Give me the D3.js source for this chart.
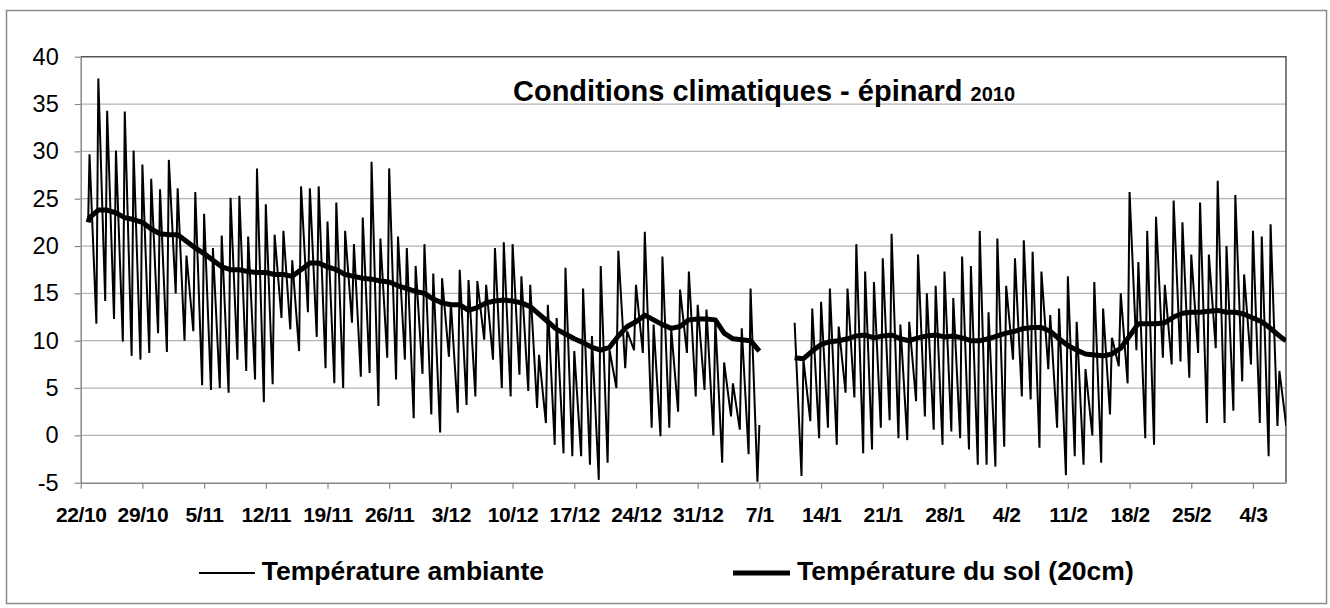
<!DOCTYPE html>
<html>
<head>
<meta charset="utf-8">
<title>Conditions climatiques - épinard 2010</title>
<script src="https://cdn.jsdelivr.net/npm/d3@7"></script>
<style>
  body { margin: 0; background: #fff; }
  svg { display: block; font-family: "Liberation Sans", Arial, sans-serif; }
</style>
</head>
<body>
<svg id="chart" width="1330" height="608"></svg>
<script>
// week tick labels (one every 7 days from 22/10)
const tickLabels = ["22/10", "29/10", "5/11", "12/11", "19/11", "26/11", "3/12", "10/12", "17/12", "24/12",
  "31/12", "7/1", "14/1", "21/1", "28/1", "4/2", "11/2", "18/2", "25/2", "4/3"];
const yTicks = [-5, 0, 5, 10, 15, 20, 25, 30, 35, 40];

// ambient temperature: daily peak and trough, days 1..136 (null = no record)
const ambMax = [29.7, 37.7, 34.3, 30.1, 34.2, 30.1, 28.6, 27.1, 26.0, 29.1,
  26.1, 19.0, 25.7, 23.4, 19.8, 21.1, 25.1, 25.3, 21.0, 28.2,
  24.4, 21.2, 21.6, 18.5, 26.3, 26.1, 26.3, 22.6, 24.6, 21.6,
  20.2, 23.0, 28.9, 20.8, 28.2, 21.0, 19.8, 17.9, 20.2, 17.1,
  16.6, 14.0, 17.5, 16.4, 16.3, 15.9, 19.8, 20.4, 20.2, 16.8,
  15.9, 8.5, 13.8, 12.4, 17.7, 8.9, 15.5, 10.5, 17.9, 9.0,
  19.5, 11.0, 15.9, 21.5, 11.7, 18.9, 11.2, 15.4, 17.3, 13.8,
  13.3, 12.2, 7.7, 5.5, 11.3, 15.5, 1.1, null, null, null,
  11.9, 8.0, 13.4, 14.1, 15.5, 11.5, 15.5, 20.2, 17.3, 16.2,
  18.7, 21.3, 11.7, 12.0, 19.1, 15.0, 15.8, 17.3, 14.5, 18.9,
  17.9, 21.6, 13.0, 20.8, 15.8, 18.7, 20.6, 19.4, 17.3, 12.7,
  13.4, 16.8, 12.0, 7.0, 16.2, 13.4, 10.3, 15.0, 25.7, 18.3,
  21.6, 23.1, 15.9, 24.8, 22.5, 19.1, 24.6, 19.1, 26.9, 20.0,
  25.4, 17.0, 21.6, 21.0, 22.3, 6.8];
const ambMin = [11.8, 14.2, 12.3, 9.9, 8.4, 8.0, 8.7, 10.8, 8.8, 15.0,
  10.0, 11.0, 5.3, 4.8, 5.0, 4.5, 8.0, 6.8, 5.9, 3.5,
  5.4, 12.4, 11.2, 8.9, 13.0, 10.4, 7.1, 5.5, 5.0, 11.9,
  6.2, 6.6, 3.1, 8.2, 5.9, 8.0, 1.8, 6.5, 2.2, 0.3,
  8.3, 2.4, 3.2, 4.1, 10.1, 8.0, 5.0, 4.1, 6.4, 4.7,
  2.9, 1.3, -1.0, -1.9, -2.2, -2.2, -3.1, -4.7, -2.9, 5.0,
  7.1, 9.0, 8.7, 0.8, -0.1, 0.8, 2.5, 8.7, 4.1, 4.8,
  0.0, -2.9, 2.0, 0.6, -2.0, -4.9, null, null, null, null,
  -4.3, 1.5, -0.3, 0.8, -1.0, 4.5, 4.0, -1.9, -1.5, 0.8,
  1.6, -0.3, -0.5, 3.6, 2.0, 0.6, -1.0, 0.4, -0.3, -1.5,
  -3.1, -3.1, -3.3, -1.2, 8.0, 4.1, 3.8, -1.3, 7.0, 0.8,
  -4.2, -2.2, -3.1, 0.0, -2.9, 2.2, 7.3, 5.5, 9.0, -0.3,
  -1.0, 8.2, 7.5, 7.8, 6.1, 8.7, 1.3, 9.2, 1.3, 2.6,
  5.7, 7.5, 1.3, -2.2, 1.0, 1.0];

// soil temperature (20cm), one value per day, days 1..136
const soil = [23.0, 23.8, 23.8, 23.5, 23.0, 22.8, 22.5, 21.8, 21.3, 21.2,
  21.2, 20.5, 19.8, 19.2, 18.5, 17.8, 17.5, 17.5, 17.3, 17.2,
  17.2, 17.0, 17.0, 16.8, 17.5, 18.2, 18.2, 17.8, 17.5, 17.0,
  16.8, 16.6, 16.5, 16.3, 16.2, 15.8, 15.5, 15.2, 15.0, 14.4,
  14.0, 13.8, 13.8, 13.2, 13.5, 14.0, 14.2, 14.3, 14.2, 14.0,
  13.6, 12.8, 12.0, 11.2, 10.7, 10.2, 9.8, 9.3, 9.0, 9.3,
  10.5, 11.5, 12.0, 12.7, 12.2, 11.7, 11.3, 11.5, 12.2, 12.3,
  12.3, 12.2, 10.8, 10.2, 10.1, 10.0, 8.9, null, null, null,
  8.2, 8.1, 8.9, 9.6, 9.9, 10.0, 10.2, 10.5, 10.6, 10.3,
  10.5, 10.6, 10.2, 10.0, 10.3, 10.5, 10.6, 10.4, 10.5, 10.3,
  10.0, 10.0, 10.2, 10.5, 10.8, 11.0, 11.3, 11.4, 11.4, 11.0,
  10.2, 9.5, 9.0, 8.6, 8.5, 8.4, 8.6, 9.2, 10.5, 11.8,
  11.8, 11.8, 11.9, 12.5, 12.9, 13.0, 13.0, 13.1, 13.2, 13.0,
  13.0, 12.8, 12.4, 12.0, 11.3, 10.5];
// first reading (evening of 22/10) and last reading
const firstReading = { ambient: 22.7, soil: 22.5 };
const lastReading = { ambient: 1.6, soil: 10.0 };

const svg = d3.select("#chart");
const plotLeft = 80.7, plotRight = 1286, plotTop = 56.7, plotBottom = 482.7;

const x = d3.scaleLinear().domain([0, 136.75]).range([plotLeft, plotRight]);
const y = d3.scaleLinear().domain([-5, 40]).range([plotBottom, plotTop]);

// build point lists
const ambPts = [{ t: 0.85, v: firstReading.ambient }];
ambMax.forEach((mx, i) => {
  ambPts.push({ t: i + 1, v: mx });
  ambPts.push({ t: i + 1.78, v: ambMin[i] });
});
ambPts.push({ t: 136.75, v: lastReading.ambient });

const soilPts = [{ t: 0.85, v: firstReading.soil }];
soil.forEach((v, i) => soilPts.push({ t: i + 1, v: v }));
soilPts.push({ t: 136.75, v: lastReading.soil });

// outer frame
svg.append("rect")
  .attr("x", 6.5).attr("y", 10.5)
  .attr("width", 1320).attr("height", 593)
  .attr("fill", "#fff").attr("stroke", "#8c8c8c").attr("stroke-width", 1.5);

// gridlines
svg.append("g").selectAll("line")
  .data(yTicks.filter(d => d > -5 && d < 40))
  .enter().append("line")
  .attr("x1", plotLeft).attr("x2", plotRight)
  .attr("y1", d => y(d)).attr("y2", d => y(d))
  .attr("stroke", "#b4b4b4").attr("stroke-width", 1.2);

// plot border top and right
svg.append("path")
  .attr("d", `M${plotLeft},${plotTop}H${plotRight}V${plotBottom}`)
  .attr("fill", "none").attr("stroke", "#555").attr("stroke-width", 1.5);

// axes
const yAxis = d3.axisLeft(y).tickValues(yTicks).tickFormat(d => String(d))
  .tickSizeInner(6).tickSizeOuter(0).tickPadding(16);
const gy = svg.append("g").attr("transform", `translate(${plotLeft},0)`).call(yAxis);
gy.select(".domain").attr("stroke", "#888").attr("stroke-width", 1.5);
gy.selectAll(".tick line").attr("stroke", "#888").attr("stroke-width", 1.2);
gy.selectAll("text")
  .attr("font-size", "23.5px")
  .attr("font-family", "'Liberation Sans', Arial, sans-serif")
  .attr("fill", "#000");

const xAxis = d3.axisBottom(x)
  .tickValues(tickLabels.map((d, i) => i * 7))
  .tickFormat((d, i) => tickLabels[i])
  .tickSizeInner(6).tickSizeOuter(0);
const gx = svg.append("g").attr("transform", `translate(0,${plotBottom})`).call(xAxis);
gx.select(".domain").attr("stroke", "#888").attr("stroke-width", 1.5);
gx.selectAll(".tick line").attr("stroke", "#888").attr("stroke-width", 1.2);
gx.selectAll("text")
  .attr("y", 39.3).attr("dy", 0)
  .attr("font-size", "21px")
  .attr("font-weight", "bold")
  .attr("letter-spacing", "-0.4px")
  .attr("font-family", "'Liberation Sans', Arial, sans-serif")
  .attr("fill", "#000");

// clip for series
svg.append("clipPath").attr("id", "plotclip")
  .append("rect").attr("x", plotLeft).attr("y", plotTop - 5)
  .attr("width", plotRight - plotLeft).attr("height", plotBottom - plotTop + 10);

const line = d3.line()
  .defined(d => d.v != null)
  .x(d => x(d.t))
  .y(d => y(d.v));

const plot = svg.append("g").attr("clip-path", "url(#plotclip)");
plot.append("path")
  .attr("d", line(ambPts))
  .attr("fill", "none").attr("stroke", "#000")
  .attr("stroke-width", 2).attr("stroke-linejoin", "miter");
plot.append("path")
  .attr("d", line(soilPts))
  .attr("fill", "none").attr("stroke", "#000")
  .attr("stroke-width", 5).attr("stroke-linejoin", "round");

// title
const title = svg.append("text")
  .attr("x", 513).attr("y", 101)
  .attr("font-size", "29px").attr("font-weight", "bold").attr("fill", "#000");
title.append("tspan").text("Conditions climatiques - épinard ");
title.append("tspan").attr("font-size", "20px").text("2010");

// legend
const legend = [
  { label: "Température ambiante", x1: 199, x2: 255, tx: 261.7, w: 1.8 },
  { label: "Température du sol (20cm)", x1: 733, x2: 790, tx: 797, w: 5 }
];
const lg = svg.append("g").selectAll("g").data(legend).enter().append("g");
lg.append("line")
  .attr("x1", d => d.x1).attr("x2", d => d.x2)
  .attr("y1", 573).attr("y2", 573)
  .attr("stroke", "#000").attr("stroke-width", d => d.w);
lg.append("text")
  .attr("x", d => d.tx).attr("y", 580)
  .attr("font-size", "26.5px").attr("font-weight", "bold").attr("fill", "#000")
  .text(d => d.label);
</script>
</body>
</html>
